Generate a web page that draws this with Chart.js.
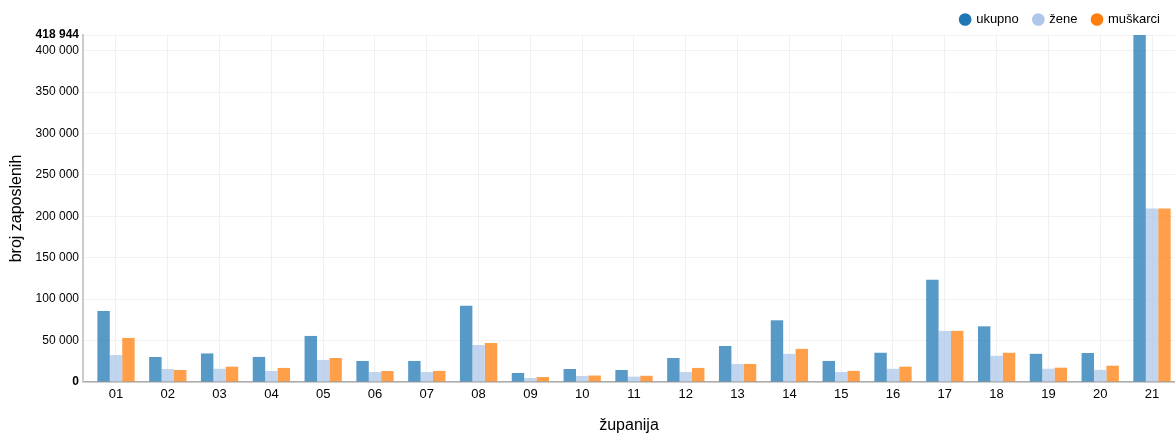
<!DOCTYPE html>
<html>
<head>
<meta charset="utf-8">
<script src="https://cdn.jsdelivr.net/npm/chart.js@4/dist/chart.umd.min.js"></script>
<style>
  html, body { margin: 0; padding: 0; background: #fff; overflow: hidden; }
  #wrap { width: 1175px; height: 436px; position: relative; }
</style>
</head>
<body>
<div id="wrap"><canvas id="chart"></canvas></div>
<script>
const zupanije = ["01", "02", "03", "04", "05", "06", "07", "08", "09", "10", "11",
  "12", "13", "14", "15", "16", "17", "18", "19", "20", "21"]
const ukupno = [85800, 30200, 34500, 30300, 55600, 25400, 25400, 92000, 10900, 15700, 14500,
  29000, 43500, 74500, 25400, 35300, 123300, 67200, 34000, 35000, 418944]
const zene = [32600, 15700, 16000, 13300, 26600, 12100, 12000, 44700, 4800, 7300, 6500,
  12000, 21800, 34000, 12000, 16000, 61700, 31600, 16000, 14700, 209400]
const muskarci = [53200, 14500, 18500, 17000, 29000, 13300, 13400, 47100, 6000, 7800, 7500,
  17000, 21800, 40000, 13400, 18500, 61700, 35300, 17300, 19700, 209544]
const yTicks = [0, 50000, 100000, 150000, 200000, 250000, 300000, 350000, 400000, 418944]
const maxY = 418944

const FONT = "'Liberation Sans', Arial, sans-serif"
const legendColors = ["#1f77b4", "#aec7e8", "#ff7f0e"]
const barColors = ["rgba(31,119,180,0.75)", "rgba(174,199,232,0.75)", "rgba(255,127,14,0.75)"]

const fmt = v => String(v).replace(/\B(?=(\d{3})+(?!\d))/g, " ")
const toPoints = arr => arr.map((v, i) => ({ x: i + 1, y: v }))

new Chart(document.getElementById("chart"), {
  type: "bar",
  data: {
    datasets: [
      { label: "ukupno", data: toPoints(ukupno), backgroundColor: barColors[0] },
      { label: "žene", data: toPoints(zene), backgroundColor: barColors[1] },
      { label: "muškarci", data: toPoints(muskarci), backgroundColor: barColors[2] }
    ]
  },
  options: {
    responsive: true,
    maintainAspectRatio: false,
    animation: false,
    layout: { padding: { top: -2, left: 0, right: 0, bottom: 0 } },
    datasets: { bar: { categoryPercentage: 0.72, barPercentage: 1.0 } },
    plugins: {
      tooltip: { enabled: false },
      legend: {
        position: "top",
        align: "end",
        maxHeight: 37,
        labels: {
          usePointStyle: true,
          boxWidth: 9,
          boxHeight: 9,
          padding: 15,
          color: "#000",
          font: { family: FONT, size: 13 },
          generateLabels: chart => chart.data.datasets.map((ds, i) => ({
            text: ds.label,
            fillStyle: legendColors[i],
            strokeStyle: legendColors[i],
            lineWidth: 0,
            pointStyle: "circle",
            hidden: false,
            datasetIndex: i
          }))
        }
      }
    },
    scales: {
      x: {
        type: "linear",
        min: 0.363,
        max: 21.444,
        offset: false,
        afterBuildTicks: scale => { scale.ticks = zupanije.map((z, i) => ({ value: i + 1 })) },
        afterFit: scale => { scale.height = 54 },
        grid: { offset: false, color: "#f0f0f0", drawTicks: false },
        border: { display: true, color: "#aaa", width: 1.5 },
        ticks: {
          autoSkip: false,
          maxRotation: 0,
          padding: 5,
          color: "#000",
          font: { family: FONT, size: 13 },
          callback: v => zupanije[v - 1]
        },
        title: {
          display: true,
          text: "županija",
          color: "#000",
          font: { family: FONT, size: 16 },
          padding: { top: 4, bottom: 1 }
        }
      },
      y: {
        min: 0,
        max: maxY,
        afterBuildTicks: scale => { scale.ticks = yTicks.map(v => ({ value: v })) },
        afterFit: scale => { scale.width = 83 },
        grid: { color: "#f2f2f2", drawTicks: false },
        border: { display: true, color: "#ccc", width: 2 },
        ticks: {
          padding: 4,
          color: "#000",
          font: ctx => ({
            family: FONT,
            size: 12,
            weight: (ctx.tick && (ctx.tick.value === 0 || ctx.tick.value === maxY)) ? "bold" : "normal"
          }),
          callback: v => fmt(v)
        },
        title: {
          display: true,
          text: "broj zaposlenih",
          color: "#000",
          font: { family: FONT, size: 16 },
          padding: { top: 7, bottom: 0 }
        }
      }
    }
  }
})
</script>
</body>
</html>
